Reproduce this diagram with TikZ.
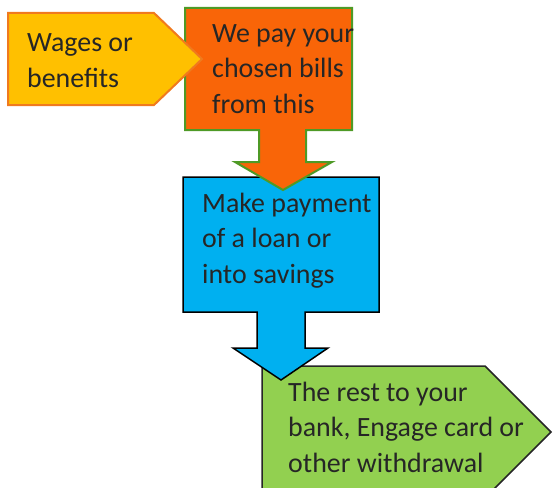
\documentclass[tikz,border=0pt]{standalone}
\usepackage{fontspec}
\setmainfont{Carlito}
\definecolor{wagesfill}{HTML}{FFC000}
\definecolor{wagesline}{HTML}{F07A1E}
\definecolor{billsfill}{HTML}{F96508}
\definecolor{billsline}{HTML}{4E9A26}
\definecolor{savingsfill}{HTML}{00B0F0}
\definecolor{restfill}{HTML}{92D050}
\definecolor{inktext}{HTML}{262626}
\tikzset{
  boxtext/.style={anchor=base west, align=left, inner sep=0pt, text=inktext,
    font=\fontsize{27.9}{35.5}\selectfont},
  shapeline/.style={line width=2pt, line join=miter}
}

\begin{document}
\begin{tikzpicture}[x=1pt,y=-1pt]
\useasboundingbox (0,0) rectangle (553,487);
\clip (0,0) rectangle (553,487);
% rest
\draw[shapeline, draw=inktext, line width=1.5pt, fill=restfill]
  (262,366) -- (485,366) -- (551,432) -- (485,498) -- (262,498) -- cycle;
% savings
\draw[shapeline, draw=black, line width=1.5pt, fill=savingsfill]
  (183,177) -- (379,177) -- (379,312) -- (305,312) -- (305,348) -- (328,348)
  -- (281,380) -- (233,348) -- (257,348) -- (257,312) -- (183,312) -- cycle;
% bills
\draw[shapeline, draw=billsline, fill=billsfill]
  (185,8) -- (352,8) -- (352,130) -- (306,130) -- (306,162) -- (332,162)
  -- (283,190) -- (235,162) -- (259,162) -- (259,130) -- (185,130) -- cycle;
% wages
\draw[shapeline, draw=wagesline, fill=wagesfill]
  (8,13) -- (154,13) -- (202,59) -- (154,105) -- (8,105) -- cycle;
% texts, placed by the baseline of their last line
\node[boxtext] (wages) at (27,87) {Wages or\\benefits};
\node[boxtext] (bills) at (212,113) {We pay your\\chosen bills\\from this};
\node[boxtext] (savings) at (202,283) {Make payment\\of a loan or\\into savings};
\node[boxtext] (rest) at (288,472) {The rest to your\\bank, Engage card or\\other withdrawal};
\end{tikzpicture}
\end{document}
